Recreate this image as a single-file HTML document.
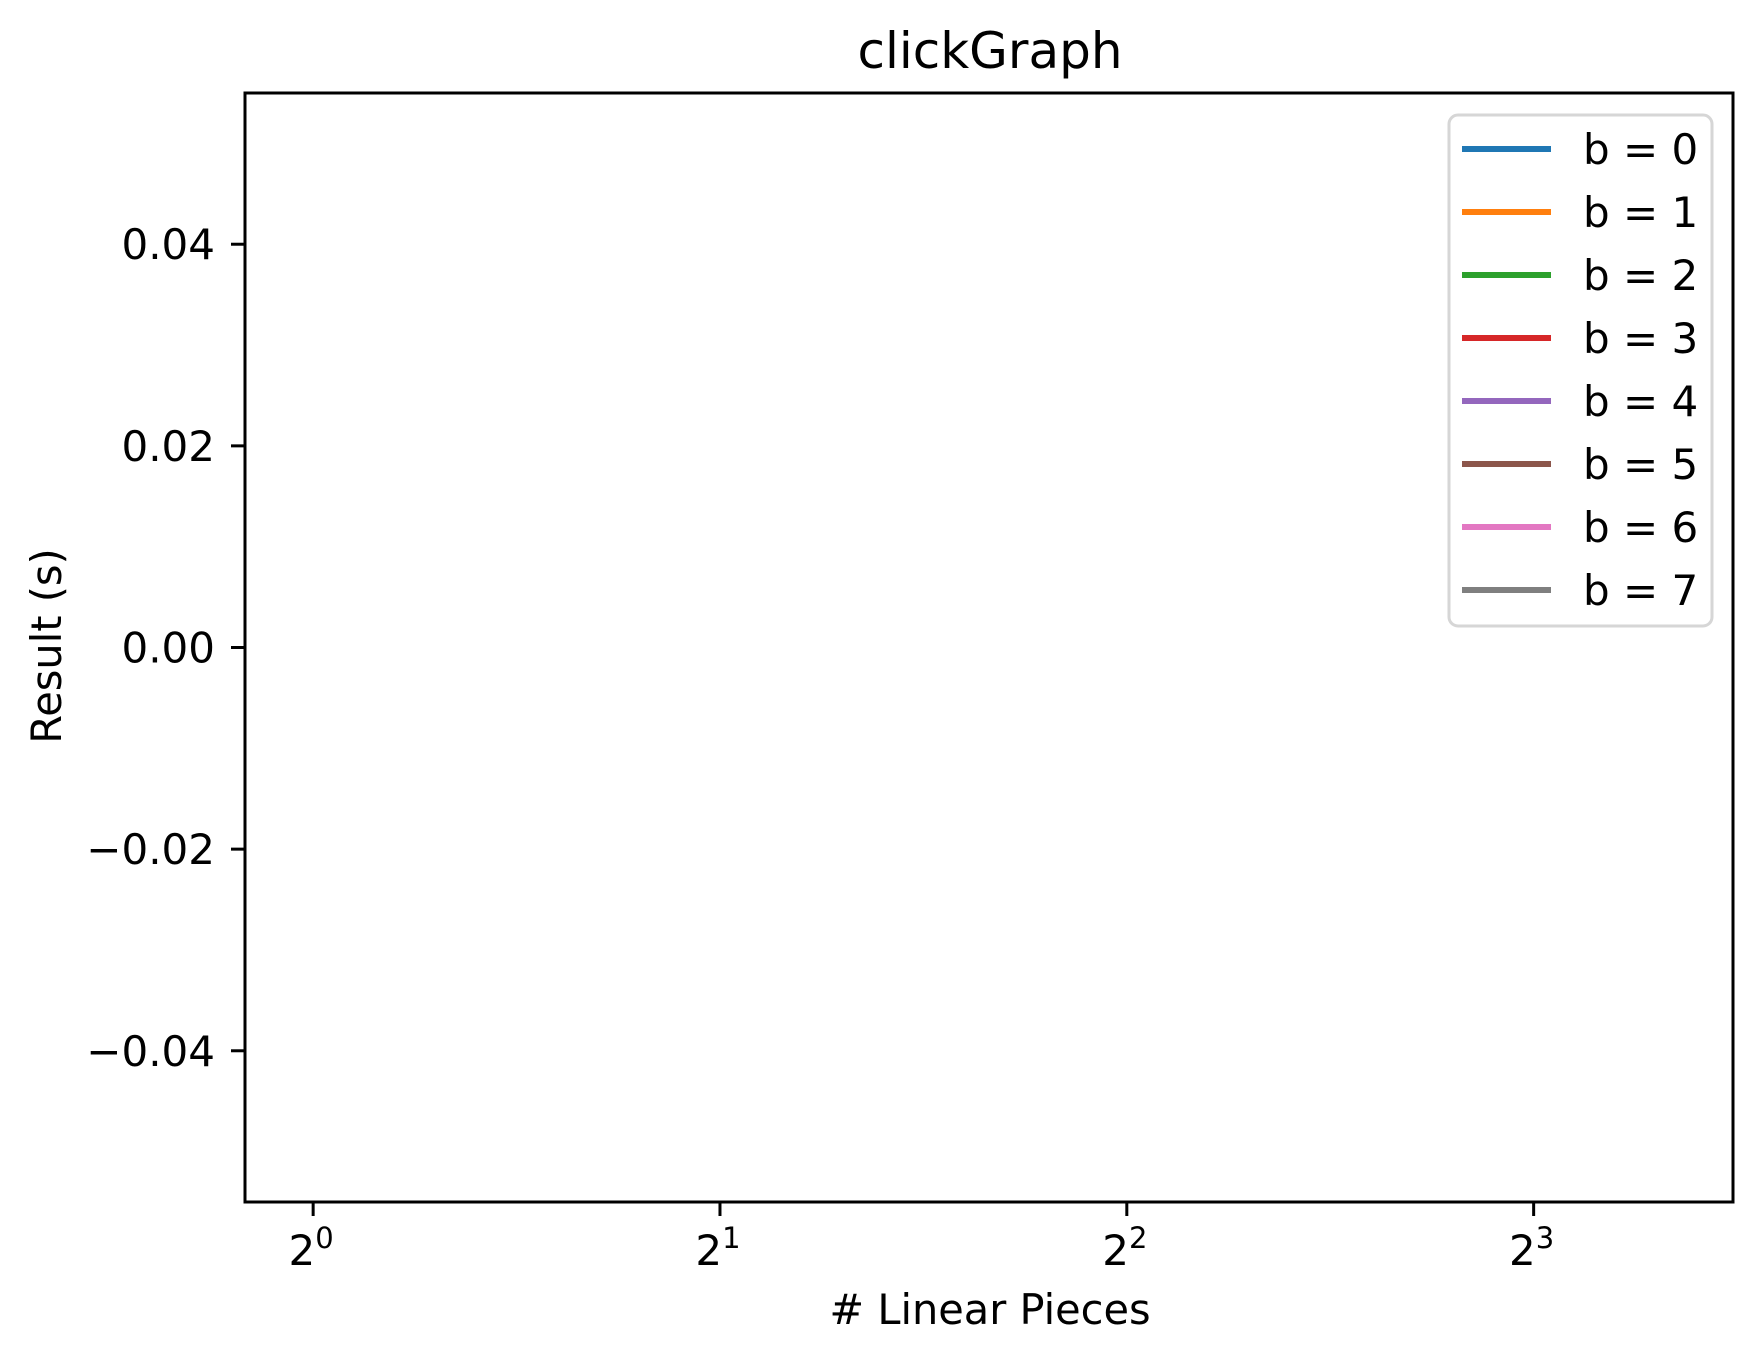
<!DOCTYPE html>
<html><head><meta charset="utf-8"><style>
html,body{margin:0;padding:0;background:#fff;}
svg{display:block;font-family:"DejaVu Sans","Liberation Sans",sans-serif;}
</style></head><body>
<svg id="chart" width="1763" height="1362" viewBox="0 0 1763 1362" xmlns="http://www.w3.org/2000/svg">
<rect x="0" y="0" width="1763" height="1362" fill="#fff"/>
<text x="990" y="68" font-size="50" text-anchor="middle">clickGraph</text>
<text x="990" y="1324" font-size="41.5" text-anchor="middle"># Linear Pieces</text>
<text transform="translate(61,646) rotate(-90)" font-size="41.5" text-anchor="middle">Result (s)</text>
<g id="plot"></g>
<rect x="245" y="93" width="1488" height="1109" fill="none" stroke="#000" stroke-width="3"/>
<g id="legend"></g>
</svg>
<script>
const xTickExps = [0, 1, 2, 3];
const yTicks = [0.04, 0.02, 0.00, -0.02, -0.04];
const yTickLabels = ["0.04", "0.02", "0.00", "\u22120.02", "\u22120.04"];
const seriesNames = ["b = 0","b = 1","b = 2","b = 3","b = 4","b = 5","b = 6","b = 7"];
const seriesColors = ["#1f77b4","#ff7f0e","#2ca02c","#d62728","#9467bd","#8c564b","#e377c2","#7f7f7f"];
const xValues = [];
const seriesValues = [[],[],[],[],[],[],[],[]];

const NS = "http://www.w3.org/2000/svg";
const svg = document.getElementById('chart');
const L = 245, R = 1733, T = 93, B = 1202;
const xMinLog = -0.1675, xMaxLog = 3.49;
const yMin = -0.055, yMax = 0.055;
function xPos(v){ return L + (Math.log2(v) - xMinLog) / (xMaxLog - xMinLog) * (R - L); }
function xPosExp(e){ return L + (e - xMinLog) / (xMaxLog - xMinLog) * (R - L); }
function yPos(v){ return B - (v - yMin) / (yMax - yMin) * (B - T); }
function mk(tag, attrs, parent){ const e = document.createElementNS(NS, tag); for (const k in attrs) e.setAttribute(k, attrs[k]); (parent || svg).appendChild(e); return e; }

xTickExps.forEach(function(ex){
  const x = xPosExp(ex);
  const t = mk('line', {x1:x, x2:x, y1:B, y2:B+14, stroke:'#000', 'stroke-width':3});
  
  
  const tx = mk('text', {x:x-2, y:1265, 'font-size':42, 'text-anchor':'middle'});
  
  
  tx.appendChild(document.createTextNode('2'));
  const sup = document.createElementNS(NS, 'tspan');
  sup.setAttribute('font-size', '29');
  sup.setAttribute('dy', '-17');
  sup.textContent = String(ex);
  tx.appendChild(sup);
});

yTicks.forEach(function(v, i){
  const y = yPos(v);
  const t = mk('line', {x1:L-14, x2:L, y1:y, y2:y, stroke:'#000', 'stroke-width':3});
  
  
  const tx = mk('text', {x:215, y:y+15, 'font-size':42, 'text-anchor':'end'});
  
  
  tx.textContent = yTickLabels[i];
});

const plot = document.getElementById('plot');
seriesValues.forEach(function(vals, si){
  if (!vals.length) return;
  const pts = vals.map(function(v, i){ return xPos(xValues[i]) + ',' + yPos(v); }).join(' ');
  const pl = mk('polyline', {points:pts, fill:'none', stroke:seriesColors[si], 'stroke-width':6}, plot);
  
  
});

const lg = document.getElementById('legend');
const box = mk('rect', {x:1449, y:115, width:263, height:511, rx:9, fill:'#fff', 'fill-opacity':0.8, stroke:'#d6d6d6', 'stroke-width':3}, lg);


seriesNames.forEach(function(n, i){
  const y = 149 + i * 63;
  const g = mk('g', {}, lg);
  
  
  mk('line', {x1:1462, x2:1551, y1:y, y2:y, stroke:seriesColors[i], 'stroke-width':6}, g);
  const tx = mk('text', {x:1583, y:y+15, 'font-size':42}, g);
  tx.textContent = n;
});
</script>
</body></html>
